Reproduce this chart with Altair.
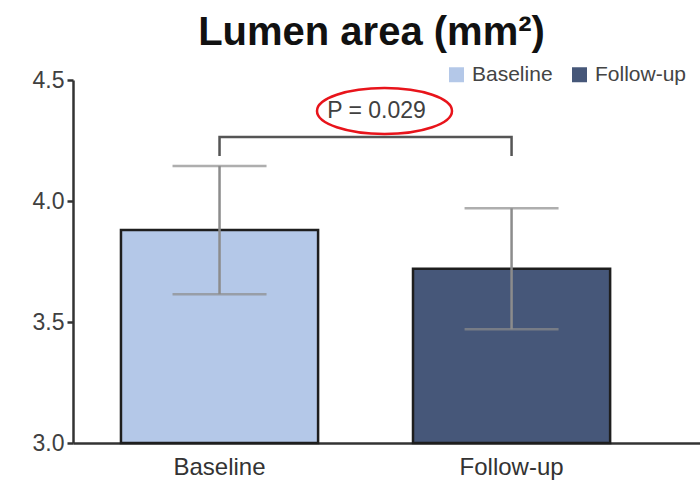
import altair as alt
import pandas as pd

# Group means and error bar limits
groups = ["Baseline", "Follow-up"]
means = [3.88, 3.72]
err_low = [3.615, 3.47]
err_high = [4.145, 3.97]
fills = ["#b4c8e8", "#465779"]

# Significance bracket between the two groups
bracket_x = ["Baseline", "Baseline", "Follow-up", "Follow-up"]
bracket_y = [4.186, 4.264, 4.264, 4.186]
p_label = "P = 0.029"
p_y = 4.372

y_ticks = [3.0, 3.5, 4.0, 4.5]
y_base = 3.0

FONT = "Liberation Sans"

df = pd.DataFrame({
    "group": groups,
    "mean": means,
    "lo": err_low,
    "hi": err_high,
    "base": [y_base] * len(groups),
})
bracket = pd.DataFrame({"group": bracket_x, "y": bracket_y, "order": list(range(len(bracket_x)))})
note = pd.DataFrame({"group": [groups[0]], "y": [p_y], "label": [p_label]})

x_scale = alt.Scale(domain=groups, paddingInner=0.325, paddingOuter=0.236, align=0.348)
y_scale = alt.Scale(domain=[3.0, 4.5], zero=False, nice=False)

x_enc = alt.X(
    "group:N", scale=x_scale, sort=groups, title=None,
    axis=alt.Axis(
        labelAngle=0, labelFontSize=24, labelColor="#333333", labelFont=FONT,
        ticks=False, labelPadding=12, domainColor="#333333", domainWidth=2.5,
    ),
)

bars = alt.Chart(df).mark_bar(stroke="#1e1e1e", strokeWidth=2.5).encode(
    x=x_enc,
    y=alt.Y(
        "mean:Q", scale=y_scale, title=None,
        axis=alt.Axis(
            values=y_ticks, format=".1f", labelFontSize=23, labelColor="#404040",
            labelFont=FONT, grid=False, tickSize=6, tickWidth=2.5, tickColor="#333333",
            domainColor="#333333", domainWidth=2.5, labelPadding=3,
        ),
    ),
    y2="base:Q",
    color=alt.Color(
        "group:N",
        scale=alt.Scale(domain=groups, range=fills),
        legend=alt.Legend(
            title=None, orient="none", legendX=373, legendY=-16, direction="horizontal",
            symbolType="square", symbolSize=225, symbolStrokeWidth=0,
            labelFontSize=21, labelColor="#444444", labelFont=FONT, labelOffset=5,
            columnPadding=16,
        ),
    ),
)

err_line = alt.Chart(df).mark_rule(color="#8c8c8c", strokeWidth=2.5).encode(
    x=alt.X("group:N", scale=x_scale, sort=groups),
    y=alt.Y("lo:Q", scale=y_scale),
    y2="hi:Q",
)
cap_hi = alt.Chart(df).mark_tick(color="#8c8c8c", thickness=2.5, size=94).encode(
    x=alt.X("group:N", scale=x_scale, sort=groups),
    y=alt.Y("hi:Q", scale=y_scale),
)
cap_lo = alt.Chart(df).mark_tick(color="#8c8c8c", thickness=2.5, size=94).encode(
    x=alt.X("group:N", scale=x_scale, sort=groups),
    y=alt.Y("lo:Q", scale=y_scale),
)

bracket_line = alt.Chart(bracket).mark_line(color="#555555", strokeWidth=2.5).encode(
    x=alt.X("group:N", scale=x_scale, sort=groups),
    y=alt.Y("y:Q", scale=y_scale),
    order="order:Q",
)

p_text = alt.Chart(note).mark_text(
    fontSize=23, font=FONT, color="#404040", dx=157, baseline="middle", align="center"
).encode(
    x=alt.X("group:N", scale=x_scale, sort=groups),
    y=alt.Y("y:Q", scale=y_scale),
    text="label:N",
)

# Red ellipse around the P value; the path is shifted right inside the symbol's unit box
ring = alt.Chart(note).mark_point(
    shape="M1.444,0A1,0.34,0,1,1,3.444,0A1,0.34,0,1,1,1.444,0Z",
    size=18225, filled=False, stroke="#e8141b", strokeWidth=2.5, opacity=1,
).encode(
    x=alt.X("group:N", scale=x_scale, sort=groups),
    y=alt.Y("y:Q", scale=y_scale),
)

chart = alt.layer(bars, err_line, cap_hi, cap_lo, bracket_line, p_text, ring).properties(
    width=627,
    height=363,
    padding={"left": 73, "top": 80, "right": 0, "bottom": 46},
    autosize=alt.AutoSizeParams(type="none"),
    background="white",
    title=alt.TitleParams(
        "Lumen area  (mm²)", fontSize=40, fontWeight="bold", font=FONT,
        color="#111111", anchor="middle", dx=-15, offset=11,
    ),
).configure_view(stroke=None)

chart.save("out.html", embed_options={"renderer": "svg", "actions": False})
